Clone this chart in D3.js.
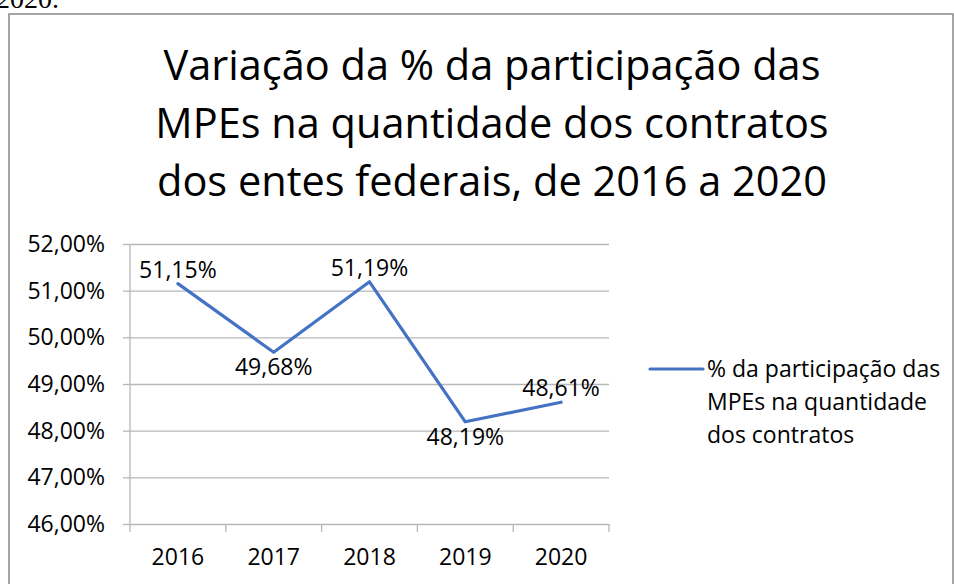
<!DOCTYPE html>
<html>
<head>
<meta charset="utf-8">
<script src="https://cdn.jsdelivr.net/npm/d3@7"></script>
<style>
  body { margin: 0; background: #fff; }
  text { font-family: 'Open Sans', sans-serif; fill: #000; }
  .axis path { display: none; }
</style>
</head>
<body>
<svg id="chart" width="954" height="584"></svg>
<script>
// data
var years = ['2016', '2017', '2018', '2019', '2020'];
var shares = [51.15, 49.68, 51.19, 48.19, 48.61];
var yTicks = [46, 47, 48, 49, 50, 51, 52];
var titleLines = [
    'Variação da % da participação das',
    'MPEs na quantidade dos contratos',
    'dos entes federais, de 2016 a 2020'
];
var legendLines = ['% da participação das', 'MPEs na quantidade', 'dos contratos'];

var lineColor = '#4472C4',
    gridColor = '#b7b7b7';

var svg = d3.select('#chart');

// text cut off above the frame (as in the source page)
svg.append('text')
    .attr('x', -4).attr('y', 8)
    .style('font-family', '"Liberation Serif", serif')
    .style('font-size', '28px')
    .text('2020.');

// frame
svg.append('rect')
    .attr('x', 9).attr('y', 14)
    .attr('width', 944).attr('height', 600)
    .attr('fill', 'none')
    .attr('stroke', '#8f8f8f')
    .attr('stroke-width', 1.6);

// title
svg.append('g').selectAll('text')
    .data(titleLines)
    .join('text')
    .attr('x', 492)
    .attr('y', function (d, i) { return 80 + i * 58; })
    .attr('text-anchor', 'middle')
    .style('font-size', '41.5px')
    .text(function (d) { return d; });

var x = d3.scaleBand().domain(years).range([130, 609]);
var y = d3.scaleLinear().domain([46, 52]).range([524, 244]);

var fmt = function (v) { return v.toFixed(2).replace('.', ',') + '%'; };

// gridlines
svg.append('g')
    .attr('class', 'axis')
    .attr('transform', 'translate(130,0)')
    .call(d3.axisLeft(y).tickValues(yTicks).tickSize(-(609 - 130)).tickFormat(''))
    .selectAll('line').attr('stroke', gridColor).attr('stroke-width', 1.3);

// y axis labels + outward ticks
var yAxis = svg.append('g')
    .attr('class', 'axis')
    .attr('transform', 'translate(130,0)')
    .call(d3.axisLeft(y).tickValues(yTicks).tickSize(7).tickPadding(18).tickFormat(fmt));
yAxis.selectAll('line').attr('stroke', gridColor).attr('stroke-width', 1.3);
yAxis.selectAll('text').style('font-size', '23px').attr('fill', '#000');

// vertical axis line
svg.append('line')
    .attr('x1', 130).attr('x2', 130)
    .attr('y1', y(52)).attr('y2', y(46))
    .attr('stroke', gridColor).attr('stroke-width', 1.3);

// x axis
var xAxis = svg.append('g')
    .attr('class', 'axis')
    .attr('transform', 'translate(0,' + y(46) + ')')
    .call(d3.axisBottom(x).tickSize(0).tickPadding(25));
xAxis.selectAll('text').style('font-size', '23px').attr('fill', '#000');

// category boundary ticks
var edges = years.map(function (d) { return x(d); }).concat([x.range()[1]]);
svg.append('g').selectAll('line')
    .data(edges)
    .join('line')
    .attr('x1', function (d) { return d; })
    .attr('x2', function (d) { return d; })
    .attr('y1', y(46)).attr('y2', y(46) + 8)
    .attr('stroke', gridColor).attr('stroke-width', 1.3);

var cx = function (i) { return x(years[i]) + x.bandwidth() / 2; };

// series line
svg.append('path')
    .datum(shares)
    .attr('fill', 'none')
    .attr('stroke', lineColor)
    .attr('stroke-width', 3.2)
    .attr('stroke-linejoin', 'round')
    .attr('stroke-linecap', 'round')
    .attr('d', d3.line().x(function (d, i) { return cx(i); }).y(function (d) { return y(d); }));

// data labels: above peaks/ends going up, below dips
var isAbove = function (i) {
    var prev = i > 0 ? shares[i - 1] : shares[i + 1];
    var next = i < shares.length - 1 ? shares[i + 1] : shares[i - 1];
    return shares[i] >= (prev + next) / 2;
};
svg.append('g').selectAll('text')
    .data(shares)
    .join('text')
    .attr('x', function (d, i) { return cx(i); })
    .attr('y', function (d, i) { return y(d) + (isAbove(i) ? -6 : 23); })
    .attr('text-anchor', 'middle')
    .style('font-size', '23px')
    .text(fmt);

// legend
svg.append('line')
    .attr('x1', 650).attr('x2', 703)
    .attr('y1', 369).attr('y2', 369)
    .attr('stroke', lineColor).attr('stroke-width', 3.2)
    .attr('stroke-linecap', 'round');
svg.append('g').selectAll('text')
    .data(legendLines)
    .join('text')
    .attr('x', 707)
    .attr('y', function (d, i) { return 377 + i * 33; })
    .style('font-size', '23px')
    .text(function (d) { return d; });
</script>
</body>
</html>
